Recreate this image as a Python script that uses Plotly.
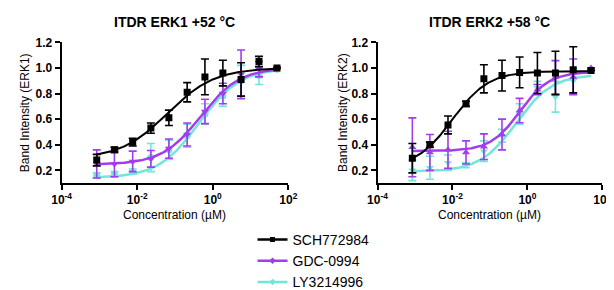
import numpy as np
import plotly.graph_objects as go
from plotly.subplots import make_subplots

# ---------------- data ----------------
conc = [0.00085, 0.0025, 0.0076, 0.023, 0.069, 0.21, 0.62, 1.85, 5.6, 16.7, 50]

# ERK1 +52 °C
sch_l = [0.28, 0.36, 0.42, 0.53, 0.61, 0.81, 0.93, 0.96, 0.91, 1.05, 1.00]
sch_l_err = [0.045, 0.02, 0.03, 0.04, 0.06, 0.075, 0.14, 0.10, 0.13, 0.04, 0.0]
gdc_l = [0.25, 0.25, 0.27, 0.29, 0.37, 0.48, 0.66, 0.80, 0.95, 0.99, 1.00]
gdc_l_err = [0.11, 0.10, 0.08, 0.065, 0.075, 0.09, 0.095, 0.08, 0.19, 0.06, 0.0]
ly_l = [0.16, 0.17, 0.19, 0.30, 0.36, 0.47, 0.64, 0.78, 0.90, 0.94, 0.99]
ly_l_err = [0.02, 0.02, 0.02, 0.11, 0.075, 0.09, 0.08, 0.08, 0.12, 0.07, 0.0]

# ERK2 +58 °C
sch_r = [0.295, 0.40, 0.555, 0.72, 0.915, 0.94, 0.965, 0.96, 0.96, 0.985, 0.98]
sch_r_err = [0.115, 0.02, 0.07, 0.02, 0.11, 0.12, 0.12, 0.16, 0.17, 0.18, 0.0]
gdc_r = [0.38, 0.34, 0.36, 0.34, 0.385, 0.48, 0.667, 0.83, 0.927, 0.93, 1.00]
gdc_r_err = [0.23, 0.14, 0.145, 0.09, 0.10, 0.12, 0.095, 0.04, 0.13, 0.14, 0.0]
ly_r = [0.20, 0.22, 0.26, 0.24, 0.35, 0.47, 0.64, 0.845, 0.775, 0.90, 0.99]
ly_r_err = [0.08, 0.09, 0.06, 0.02, 0.08, 0.05, 0.08, 0.05, 0.12, 0.10, 0.0]

# 4-parameter logistic fit parameters: bottom, top, logEC50, hill
fit_sch_l = (0.29, 1.0, -1.2, 0.7)
fit_gdc_l = (0.245, 1.0, -0.32, 0.85)
fit_ly_l = (0.14, 1.0, -0.36, 0.8)
fit_sch_r = (0.22, 0.975, -2.0, 0.9)
fit_gdc_r = (0.35, 0.97, -0.2, 1.1)
fit_ly_r = (0.19, 0.95, -0.3, 0.9)

names = ["SCH772984", "GDC-0994", "LY3214996"]
colors = ["#000000", "#A23CEE", "#72E6D8"]

titles = ["ITDR ERK1 +52 °C", "ITDR ERK2 +58 °C"]
ytitles = ["Band Intensity (ERK1)", "Band Intensity (ERK2)"]
xtitle = "Concentration (µM)"
xtick_vals = [1e-4, 1e-2, 1, 100]
xtick_text = ["<b>10<sup>-4</sup></b>", "<b>10<sup>-2</sup></b>", "<b>10<sup>0</sup></b>", "<b>10<sup>2</sup></b>"]
ytick_vals = [0.2, 0.4, 0.6, 0.8, 1.0, 1.2]

FONT = "Arial, Liberation Sans, sans-serif"

def fourpl(params, xs):
    b, t, lec, h = params
    lx = np.log10(xs)
    return b + (t - b) / (1 + 10 ** ((lec - lx) * h))

fig = make_subplots(rows=1, cols=2)

panels = [
    (1, [(sch_l, sch_l_err, fit_sch_l, "square"), (gdc_l, gdc_l_err, fit_gdc_l, "triangle-down"), (ly_l, ly_l_err, fit_ly_l, "circle")]),
    (2, [(sch_r, sch_r_err, fit_sch_r, "square"), (gdc_r, gdc_r_err, fit_gdc_r, "triangle-up"), (ly_r, ly_r_err, fit_ly_r, "triangle-down")]),
]

xs_fit = np.logspace(np.log10(conc[0]), np.log10(conc[-1]), 200)

draw_order = [2, 1, 0]  # cyan at bottom, black on top
for col, series in panels:
    for i in draw_order:
        vals, errs, fit, sym = series[i]
        c = colors[i]
        lw = 2 if i == 0 else 2.5
        fig.add_trace(go.Scatter(x=xs_fit, y=fourpl(fit, xs_fit), mode="lines",
                                 line=dict(color=c, width=lw), showlegend=False,
                                 hoverinfo="skip"), row=1, col=col)
        fig.add_trace(go.Scatter(x=conc, y=vals, mode="markers",
                                 marker=dict(symbol=sym, size=7, color=c),
                                 error_y=dict(type="data", array=errs, visible=True,
                                              color=c, thickness=1.6, width=4),
                                 showlegend=False), row=1, col=col)

# legend entries
for i in range(3):
    fig.add_trace(go.Scatter(x=[None], y=[None], mode="lines+markers", name=names[i],
                             line=dict(color=colors[i], width=2.5),
                             marker=dict(symbol="square" if i == 0 else "diamond", size=5, color=colors[i]),
                             legendrank=i + 1), row=1, col=1)

W, H = 614, 290
xdoms = [(45 / W, 279 / W), (371 / W, 603 / W)]
ydom = (1 - 184 / H, 1 - 30 / H)

for k, col in enumerate([1, 2]):
    fig.update_xaxes(type="log", range=[-4, 2], domain=list(xdoms[k]),
                     tickvals=xtick_vals, ticktext=xtick_text,
                     showline=True, linecolor="black", linewidth=2,
                     ticks="outside", tickwidth=2, ticklen=5, tickcolor="black",
                     showgrid=False, zeroline=False,
                     tickfont=dict(family=FONT, size=12, color="black"),
                     row=1, col=col)
    fig.update_yaxes(range=[0.105, 1.2], domain=list(ydom),
                     tickvals=ytick_vals, ticktext=["<b>%.1f</b>" % v for v in ytick_vals],
                     showline=True, linecolor="black", linewidth=2,
                     ticks="outside", tickwidth=2, ticklen=5, tickcolor="black",
                     showgrid=False, zeroline=False,
                     tickfont=dict(family=FONT, size=12, color="black"),
                     row=1, col=col)

annots = []
centers = [162 / W, 487 / W]
ytitle_x = [8 / W, 336 / W]
for k in range(2):
    annots.append(dict(text="<b>%s</b>" % titles[k], x=centers[k], y=1 - 8 / H,
                       xref="paper", yref="paper", xanchor="center", yanchor="middle",
                       showarrow=False, font=dict(family=FONT, size=14, color="black")))
    annots.append(dict(text=xtitle, x=centers[k], y=1 - 220 / H,
                       xref="paper", yref="paper", xanchor="center", yanchor="middle",
                       showarrow=False, font=dict(family=FONT, size=12, color="black")))
    annots.append(dict(text=ytitles[k], x=ytitle_x[k], y=1 - 107 / H, textangle=-90,
                       xref="paper", yref="paper", xanchor="center", yanchor="middle",
                       showarrow=False, font=dict(family=FONT, size=12, color="black")))

fig.update_layout(
    width=W, height=H,
    margin=dict(l=0, r=0, t=0, b=0),
    paper_bgcolor="white", plot_bgcolor="white",
    annotations=annots,
    showlegend=True,
    legend=dict(x=242 / W, y=1 - 230 / H, xanchor="left", yanchor="top",
                font=dict(family=FONT, size=14, color="black"),
                bgcolor="rgba(0,0,0,0)", itemwidth=30, tracegroupgap=0),
)

fig.write_html("out.html")
